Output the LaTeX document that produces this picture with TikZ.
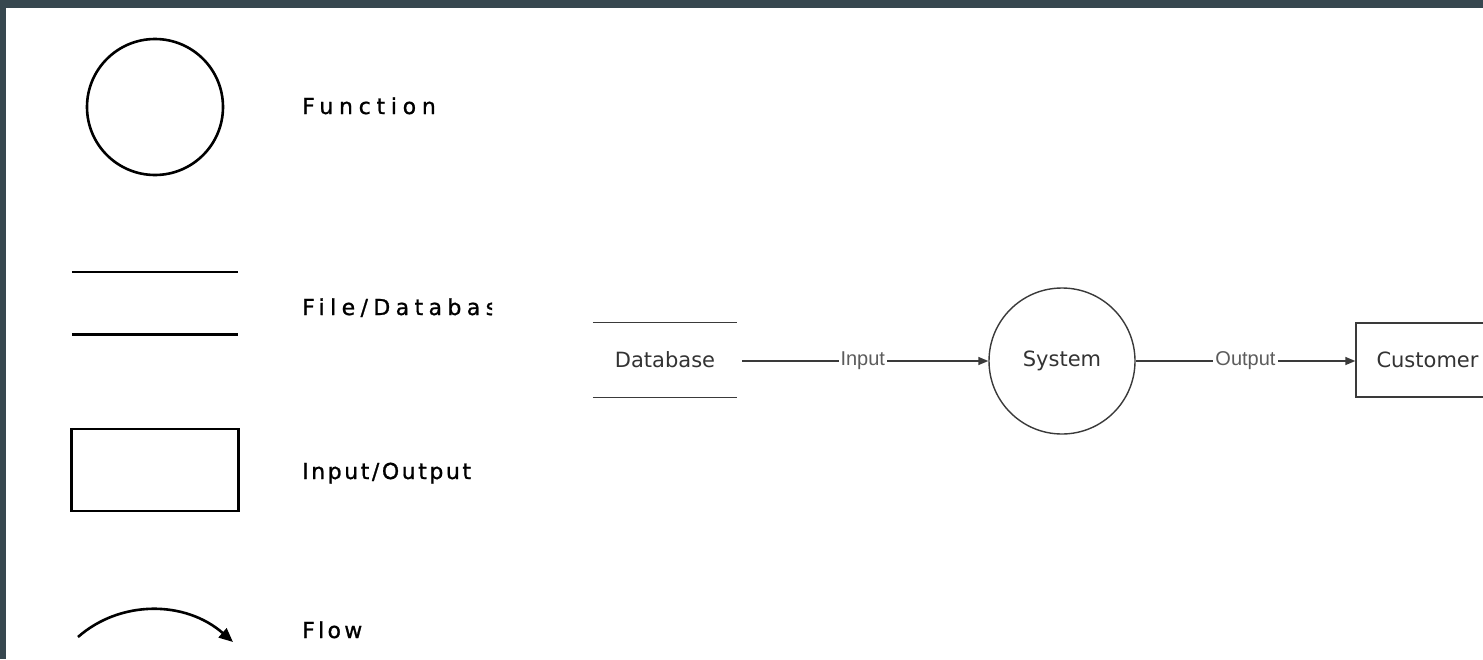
\documentclass[tikz,border=0pt]{standalone}
\usepackage{fontspec}
\setmainfont{DejaVu Sans}
% letter-spaced cuts of the legend font
\newfontfamily\keywide[LetterSpace=26,FakeBold=1]{DejaVu Sans}
\newfontfamily\keyfile[LetterSpace=24.5,FakeBold=1]{DejaVu Sans}
\newfontfamily\keymid[LetterSpace=15,FakeBold=1]{DejaVu Sans}
\newfontfamily\keynarrow[LetterSpace=11.6,FakeBold=1]{DejaVu Sans}
\newfontfamily\flowlabel{Liberation Sans}
\usetikzlibrary{arrows.meta}
\definecolor{framecol}{HTML}{37474F}
\definecolor{ink}{HTML}{333333}
\definecolor{linegray}{HTML}{3A3A3A}

\begin{document}
\begin{tikzpicture}[x=1pt,y=-1pt,
  keyshape/.style={draw=black, line width=2.6pt, inner sep=0pt},
  keytext/.style={anchor=base west, inner sep=0pt, text=black},
  dfdshape/.style={draw=linegray, line width=1.4pt, inner sep=0pt,
    font=\fontsize{21}{25}\selectfont, text=ink},
  dfdflow/.style={draw=linegray, line width=1.4pt,
    -{Triangle[length=10pt,width=8pt]}},
  flowtag/.style={fill=white, inner sep=2pt, text=ink!80,
    font=\flowlabel\fontsize{20}{24}\selectfont},
]
% page frame
\fill[framecol] (0,0) rectangle (1483,659);
\fill[white] (6,8) rectangle (1483,659);
\clip (0,0) rectangle (1483,659);

% ---- legend ----
\node[keyshape, circle, minimum size=136pt] (kfun) at (155,107) {};
\node[keytext, font=\keywide\fontsize{22}{26}\selectfont] (tfun) at (302,114) {Function};

\node[inner sep=0pt, minimum width=166pt, minimum height=62pt] (kfile) at (155,303) {};
\draw[black, line width=2.6pt] (kfile.north west) -- (kfile.north east);
\draw[black, line width=2.6pt] (kfile.south west) -- (kfile.south east);
\begin{scope}
  \clip (295,280) rectangle (492,330);
  \node[keytext, font=\keyfile\fontsize{22}{26}\selectfont] (tfile) at (302,315) {File/Database};
\end{scope}

\node[keyshape, rectangle, minimum width=167pt, minimum height=82pt] (kio) at (155,470) {};
\node[keytext, font=\keynarrow\fontsize{22}{26}\selectfont] (tio) at (302,479) {Input/Output};

\coordinate (fa) at (78,637);
\coordinate (fb) at (233,642);
\draw[black, line width=2.6pt, -{Triangle[length=14pt,width=12pt]}]
  (fa) .. controls (120,600) and (185,600) .. (fb);
\node[keytext, font=\keymid\fontsize{22}{26}\selectfont] (tflow) at (302,638) {Flow};

% ---- data flow ----
\node[dfdshape, draw=none, minimum width=143pt, minimum height=74pt] (db) at (665,360) {Database};
\draw[linegray, line width=1.4pt] (db.north west) -- (db.north east);
\draw[linegray, line width=1.4pt] (db.south west) -- (db.south east);

\node[dfdshape, circle, minimum size=146pt] (sys) at (1062,361) {System};
\node[dfdshape, rectangle, minimum width=143pt, minimum height=74pt] (cust) at (1427.5,360) {Customer};

\draw[dfdflow, shorten <=5pt] (db.east |- sys.west) -- node[flowtag] {Input} (sys.west);
\draw[dfdflow] (sys.east) -- node[flowtag] {Output} (cust.west |- sys.east);
\end{tikzpicture}
\end{document}
